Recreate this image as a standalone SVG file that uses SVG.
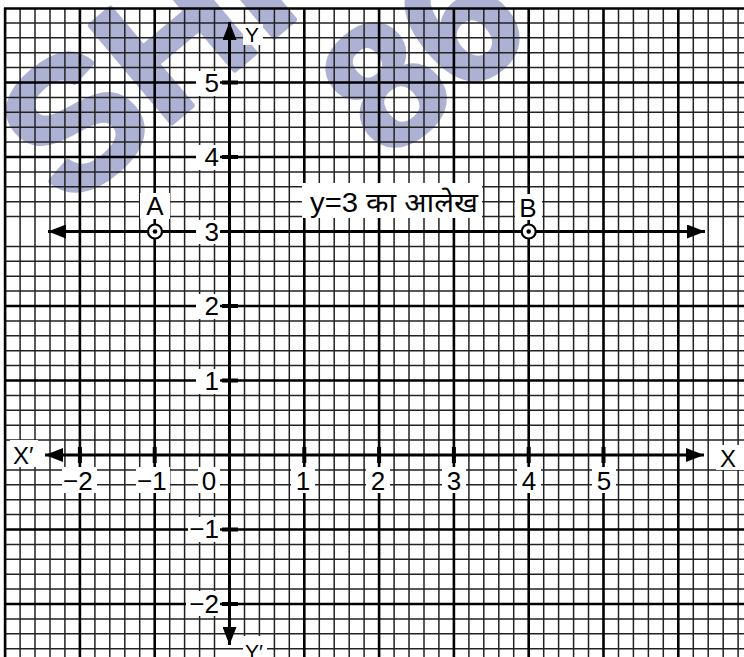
<svg xmlns="http://www.w3.org/2000/svg" width="744" height="657" viewBox="0 0 744 657">
<style>
.fine{fill:none;stroke:#222;stroke-width:1.5}
.major{fill:none;stroke:#000;stroke-width:2.6}
.axis{fill:none;stroke:#000;stroke-width:3}
.tick{fill:none;stroke:#000;stroke-width:4}
.bg{fill:#fff}
.lbl{font-family:"Liberation Sans",Arial,sans-serif;font-size:26px;fill:#000}
.wm{font-family:"Liberation Sans",Arial,sans-serif;font-weight:bold;fill:#adb1d4;stroke:#adb1d4;stroke-width:5;stroke-linejoin:round}
.pt{fill:#fff;stroke:#000;stroke-width:2.2}
</style>
<defs>
<marker id="arr" viewBox="0 0 18 14" refX="18" refY="7" markerWidth="18" markerHeight="14" markerUnits="userSpaceOnUse" orient="auto-start-reverse">
<path d="M0 0L18 7L0 14z" fill="#000"/>
</marker>
</defs>
<rect width="744" height="657" fill="#fff"/>
<g id="watermark">
<text class="wm" x="68" y="210" font-size="185" transform="rotate(-40 68 210)">SHI</text>
<text class="wm" x="387" y="162" font-size="175" transform="rotate(-40 387 162)">86</text>
</g>
<g id="grid">
<path class="fine" d="M20.1 8V657M35 8V657M50 8V657M64.9 8V657M94.9 8V657M109.8 8V657M124.8 8V657M139.7 8V657M169.7 8V657M184.6 8V657M199.6 8V657M214.5 8V657M244.5 8V657M259.4 8V657M274.4 8V657M289.3 8V657M319.3 8V657M334.2 8V657M349.2 8V657M364.1 8V657M394.1 8V657M409 8V657M424 8V657M438.9 8V657M468.9 8V657M483.8 8V657M498.8 8V657M513.7 8V657M543.7 8V657M558.6 8V657M573.6 8V657M588.5 8V657M618.5 8V657M633.4 8V657M648.4 8V657M663.3 8V657M693.3 8V657M708.2 8V657M723.2 8V657M738.1 8V657"/>
<path class="fine" d="M5 22.9H744M5 37.8H744M5 52.7H744M5 67.6H744M5 97.4H744M5 112.3H744M5 127.2H744M5 142.1H744M5 171.9H744M5 186.8H744M5 201.7H744M5 216.6H744M5 246.4H744M5 261.3H744M5 276.2H744M5 291.1H744M5 320.9H744M5 335.8H744M5 350.7H744M5 365.6H744M5 395.4H744M5 410.3H744M5 425.2H744M5 440.1H744M5 469.9H744M5 484.8H744M5 499.7H744M5 514.6H744M5 544.4H744M5 559.3H744M5 574.2H744M5 589.1H744M5 618.9H744M5 633.8H744M5 648.7H744"/>
<path class="major" d="M5.1 8V657M79.9 8V657M154.7 8V657M304.3 8V657M379.1 8V657M453.9 8V657M528.7 8V657M603.5 8V657M678.3 8V657M4 8.5H744M5 82.5H744M5 157H744M5 306H744M5 380.5H744M5 529.5H744M5 604H744"/>
</g>
<g id="connectors">
<path id="x-axis" class="axis" d="M45 455H704" marker-start="url(#arr)" marker-end="url(#arr)"/>
<path id="y-axis" class="axis" d="M229.5 22V645" marker-start="url(#arr)" marker-end="url(#arr)"/>
<path id="line-y3" class="axis" d="M48 231.5H705" marker-start="url(#arr)" marker-end="url(#arr)"/>
<path class="tick" d="M222 82.5H238M222 157H238M222 306H238M222 380.5H238M222 529.5H238M222 604H238M79.9 447V463M154.7 447V463M304.3 447V463M379.1 447V463M453.9 447V463M528.7 447V463M603.5 447V463"/>
</g>
<g id="y-labels">
<rect class="bg" x="196" y="71" width="24" height="25"/><text class="lbl" x="219" y="92" text-anchor="end">5</text>
<rect class="bg" x="196" y="145" width="24" height="25"/><text class="lbl" x="219" y="166" text-anchor="end">4</text>
<rect class="bg" x="196" y="220" width="24" height="24"/><text class="lbl" x="219" y="241" text-anchor="end">3</text>
<rect class="bg" x="196" y="294" width="24" height="25"/><text class="lbl" x="219" y="315" text-anchor="end">2</text>
<rect class="bg" x="196" y="369" width="24" height="25"/><text class="lbl" x="219" y="390" text-anchor="end">1</text>
<rect class="bg" x="188" y="517" width="32" height="25"/><text class="lbl" x="219" y="538" text-anchor="end">−1</text>
<rect class="bg" x="186" y="591" width="34" height="25"/><text class="lbl" x="219" y="613" text-anchor="end">−2</text>
</g>
<g id="x-labels">
<rect class="bg" x="62" y="467" width="35" height="26"/><text class="lbl" x="63" y="490">−2</text>
<rect class="bg" x="136" y="467" width="34" height="26"/><text class="lbl" x="137" y="490">−1</text>
<rect class="bg" x="198" y="467" width="22" height="26"/><text class="lbl" x="209" y="490" text-anchor="middle">0</text>
<rect class="bg" x="291" y="467" width="24" height="26"/><text class="lbl" x="303" y="490" text-anchor="middle">1</text>
<rect class="bg" x="366" y="467" width="24" height="26"/><text class="lbl" x="378" y="490" text-anchor="middle">2</text>
<rect class="bg" x="442" y="467" width="24" height="26"/><text class="lbl" x="454" y="490" text-anchor="middle">3</text>
<rect class="bg" x="517" y="467" width="24" height="26"/><text class="lbl" x="529" y="490" text-anchor="middle">4</text>
<rect class="bg" x="592" y="467" width="24" height="26"/><text class="lbl" x="604" y="490" text-anchor="middle">5</text>
</g>
<g id="axis-names">
<rect class="bg" x="10" y="440" width="28" height="27"/><text class="lbl" x="13" y="464" style="font-size:24px">X′</text>
<rect class="bg" x="716" y="445" width="28" height="25"/><text class="lbl" x="720" y="467" style="font-size:24px">X</text>
<rect class="bg" x="243" y="24" width="20" height="21"/><text class="lbl" x="245" y="42" style="font-size:21px">Y</text>
<rect class="bg" x="243" y="636" width="24" height="21"/><text class="lbl" x="245" y="659" style="font-size:21px">Y′</text>
</g>
<g id="title">
<rect class="bg" x="302" y="183" width="180" height="35"/>
<text x="310" y="212" textLength="168" lengthAdjust="spacingAndGlyphs" style="font-family:'Liberation Sans','Noto Sans Devanagari','Noto Sans',sans-serif;font-size:27px;fill:#000">y=3 का आलेख</text>
</g>
<g id="point-A">
<rect class="bg" x="140" y="193" width="30" height="26"/>
<text class="lbl" x="155" y="215" text-anchor="middle">A</text>
<circle class="pt" cx="155" cy="231.5" r="7"/>
<circle cx="155" cy="231.5" r="2.3" fill="#000"/>
</g>
<g id="point-B">
<rect class="bg" x="515" y="194" width="27" height="26"/>
<text class="lbl" x="528" y="217" text-anchor="middle">B</text>
<circle class="pt" cx="528.7" cy="231.5" r="7"/>
<circle cx="528.7" cy="231.5" r="2.3" fill="#000"/>
</g>
</svg>
